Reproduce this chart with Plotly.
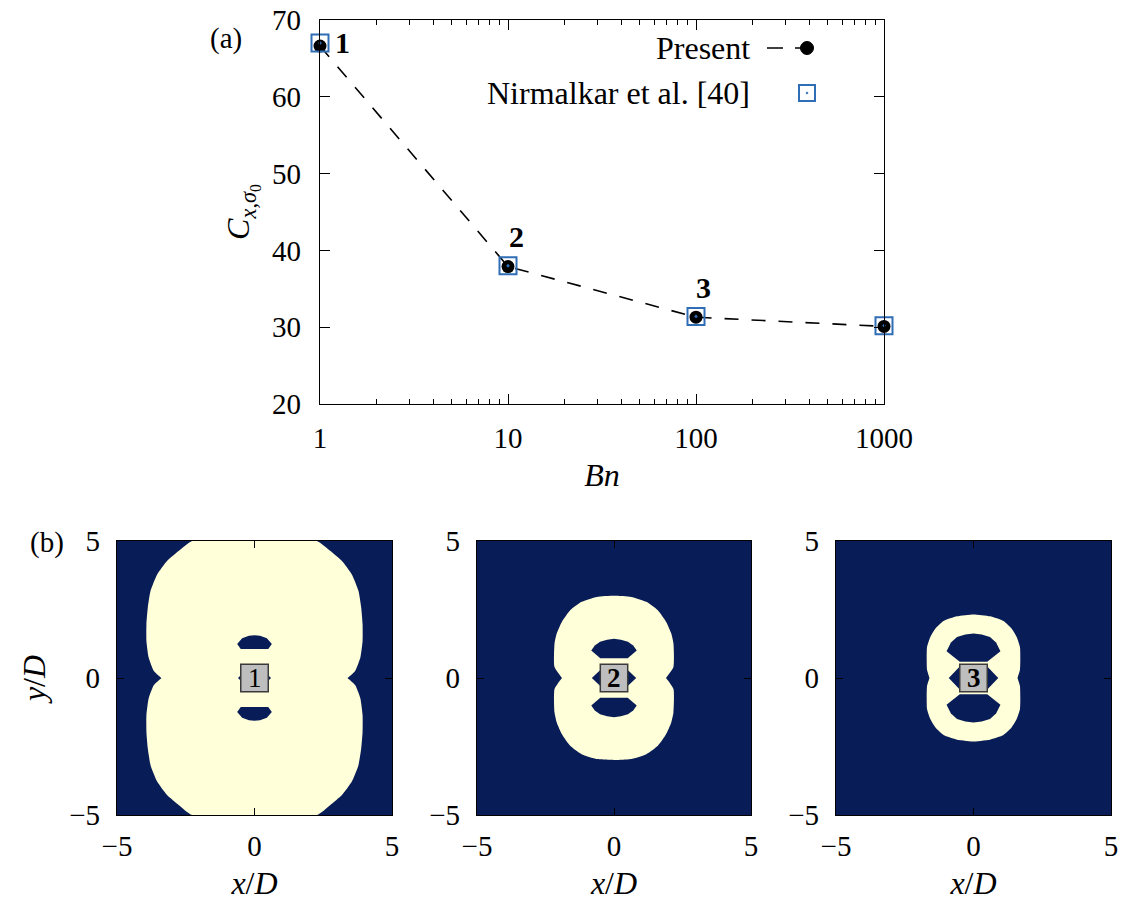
import math
import plotly.graph_objects as go

W, H = 1123, 907
FONT = "Liberation Serif"
NAVY = "#081d58"
CREAM = "#ffffd9"
BLUE = "#2f6db5"

# ---------------- panel (a) data ----------------
BN = [1, 10, 100, 1000]
CX_PRESENT = [66.6, 37.9, 31.3, 30.1]
CX_NIRMALKAR = [67.0, 38.0, 31.4, 30.2]
CASE_LABELS = ["1", "2", "3"]
Y_TICKS = [20, 30, 40, 50, 60, 70]

# ---------------- panel (b) data (yield-surface outlines, x<=0, y>=0 quadrant) ----
OUTER1_X = [0, -2.27, -2.75, -3.18, -3.54, -3.78, -3.88, -3.93, -3.93, -3.85, -3.66, -3.38]
OUTER1_Y = [5, 5, 4.64, 4.27, 3.78, 3.18, 2.57, 1.96, 1.35, 0.75, 0.26, 0]
HOLE1_X = [0, -0.2, -0.45, -0.63, -0.5, 0]
HOLE1_Y = [1.56, 1.54, 1.45, 1.24, 1.06, 1.05]
SIDE1_X = [-0.5, -0.6, -0.5]
SIDE1_Y = [0.1, 0, -0.1]

OUTER2_X = [0, -0.63, -1.18, -1.6, -1.9, -2.09, -2.17, -2.17, -1.9]
OUTER2_Y = [3.0, 2.96, 2.78, 2.47, 2.05, 1.62, 1.26, 0.4, 0]
HOLE2_X = [0, -0.25, -0.51, -0.7, -0.83, -0.5, 0]
HOLE2_Y = [1.43, 1.40, 1.32, 1.19, 1.0, 0.72, 0.72]
SIDE2_X = [-0.5, -0.81, -0.5]
SIDE2_Y = [0.29, 0, -0.29]

OUTER3_X = [0, -0.6, -1.09, -1.39, -1.57, -1.69, -1.69, -1.6]
OUTER3_Y = [2.32, 2.25, 2.08, 1.80, 1.50, 1.13, 0.3, 0]
HOLE3_X = [0, -0.3, -0.6, -0.82, -0.98, -0.5, 0]
HOLE3_Y = [1.62, 1.59, 1.5, 1.3, 0.98, 0.59, 0.59]
SIDE3_X = [-0.5, -0.9, -0.5]
SIDE3_Y = [0.42, 0, -0.42]

CYL_X = [-0.5, 0.5]
CYL_Y = [-0.5, 0.5]
PANEL_TICKS = [-5, 0, 5]
PANEL_RANGE = [-5, 5]

PANELS = [
    (OUTER1_X, OUTER1_Y, HOLE1_X, HOLE1_Y, SIDE1_X, SIDE1_Y, "1", False),
    (OUTER2_X, OUTER2_Y, HOLE2_X, HOLE2_Y, SIDE2_X, SIDE2_Y, "2", True),
    (OUTER3_X, OUTER3_Y, HOLE3_X, HOLE3_Y, SIDE3_X, SIDE3_Y, "3", True),
]


def full_outline(qx, qy):
    xs = list(qx) + list(reversed(qx)) + [-x for x in qx] + [-x for x in reversed(qx)]
    ys = list(qy) + [-y for y in reversed(qy)] + [-y for y in qy] + list(reversed(qy))
    return xs, ys


def hole_outline(hx, hy, sign):
    xs = list(hx) + [-x for x in reversed(hx)]
    ys = [sign * y for y in hy] + [sign * y for y in reversed(hy)]
    return xs, ys


def px_x(p):
    return p / W


def px_y(p):
    return 1 - p / H


fig = go.Figure()

# ---------------- panel (a) ----------------
fig.add_trace(go.Scatter(
    x=BN, y=CX_PRESENT, mode="lines+markers", name="Present",
    line=dict(color="black", width=1.6, dash="14px,13px"),
    marker=dict(symbol="circle", size=13, color="black"),
    xaxis="x", yaxis="y", showlegend=False, cliponaxis=False,
))
fig.add_trace(go.Scatter(
    x=BN, y=CX_NIRMALKAR, mode="markers", name="Nirmalkar et al. [40]",
    marker=dict(symbol="square-open-dot", size=17, color=BLUE, line=dict(width=2, color=BLUE)),
    xaxis="x", yaxis="y", showlegend=False, cliponaxis=False,
))

annotations = []
shapes = []

label_shifts = [(22, 4), (8, 30), (7, 30)]
for i, lab in enumerate(CASE_LABELS):
    annotations.append(dict(
        x=math.log10(BN[i]), y=CX_PRESENT[i], xref="x", yref="y",
        text=f"<b>{lab}</b>", showarrow=False,
        xshift=label_shifts[i][0], yshift=label_shifts[i][1],
        font=dict(family=FONT, size=30, color="black"),
    ))

# manual gnuplot-style legend (text left, key right)
annotations.append(dict(x=px_x(752), y=px_y(48), xref="paper", yref="paper", text="Present",
                        showarrow=False, xanchor="right", yanchor="middle",
                        font=dict(family=FONT, size=32, color="black")))
annotations.append(dict(x=px_x(752), y=px_y(93), xref="paper", yref="paper",
                        text="Nirmalkar et al. [40]", showarrow=False, xanchor="right",
                        yanchor="middle", font=dict(family=FONT, size=32, color="black")))
shapes.append(dict(type="line", xref="paper", yref="paper", x0=px_x(767), x1=px_x(823),
                   y0=px_y(48), y1=px_y(48), line=dict(color="black", width=1.6, dash="16px,12px")))
shapes.append(dict(type="circle", xref="paper", yref="paper", x0=px_x(800.5), x1=px_x(813.5),
                   y0=px_y(41.5), y1=px_y(54.5), fillcolor="black", line=dict(color="black", width=1)))
shapes.append(dict(type="rect", xref="paper", yref="paper", x0=px_x(799), x1=px_x(815),
                   y0=px_y(85), y1=px_y(101), fillcolor="rgba(0,0,0,0)", line=dict(color=BLUE, width=2)))
shapes.append(dict(type="circle", xref="paper", yref="paper", x0=px_x(806), x1=px_x(808),
                   y0=px_y(92), y1=px_y(94), fillcolor=BLUE, line=dict(color=BLUE, width=0.5)))

annotations.append(dict(x=px_x(208), y=px_y(20), xref="paper", yref="paper", text="(a)",
                        showarrow=False, font=dict(family=FONT, size=29, color="black")))
annotations.append(dict(x=px_x(28), y=px_y(542), xref="paper", yref="paper", text="(b)",
                        showarrow=False, font=dict(family=FONT, size=29, color="black")))

# ---------------- panel (b) ----------------
bot_domains = [(117, 392), (477, 751), (836, 1111)]
for k, (ox, oy, hx, hy, sx, sy, lab, bold) in enumerate(PANELS):
    xa = f"x{k + 2}"
    ya = f"y{k + 2}"
    # background (unyielded) region
    shapes.append(dict(type="rect", xref=f"{xa} domain", yref=f"{ya} domain", x0=0, x1=1,
                       y0=0, y1=1, fillcolor=NAVY, line=dict(width=0), layer="below"))
    fx, fy = full_outline(ox, oy)
    fig.add_trace(go.Scatter(x=fx, y=fy, fill="toself", fillcolor=CREAM, mode="lines",
                             line=dict(width=0, color=CREAM, shape="spline", smoothing=0.5),
                             xaxis=xa, yaxis=ya, showlegend=False, hoverinfo="skip"))
    for sign in (1, -1):
        px_, py_ = hole_outline(hx, hy, sign)
        fig.add_trace(go.Scatter(x=px_, y=py_, fill="toself", fillcolor=NAVY, mode="lines",
                                 line=dict(width=0, color=NAVY), xaxis=xa, yaxis=ya,
                                 showlegend=False, hoverinfo="skip"))
        fig.add_trace(go.Scatter(x=[sign * v for v in sx], y=list(sy), fill="toself",
                                 fillcolor=NAVY, mode="lines", line=dict(width=0, color=NAVY),
                                 xaxis=xa, yaxis=ya, showlegend=False, hoverinfo="skip"))
    shapes.append(dict(type="rect", xref=xa, yref=ya, x0=CYL_X[0], x1=CYL_X[1],
                       y0=CYL_Y[0], y1=CYL_Y[1], fillcolor="#bebebe",
                       line=dict(color="#3a3a3a", width=1.5)))
    annotations.append(dict(x=0, y=0, xref=xa, yref=ya,
                            text=f"<b>{lab}</b>" if bold else lab, showarrow=False,
                            font=dict(family=FONT, size=27, color="black")))

axis_common = dict(showgrid=False, zeroline=False, showline=True, linecolor="black",
                   linewidth=1.2, mirror="ticks", ticks="inside", tickcolor="black",
                   tickwidth=1.2, automargin=False,
                   tickfont=dict(family=FONT, size=29, color="black"))

layout = dict(
    width=W, height=H, margin=dict(l=0, r=0, t=0, b=0, autoexpand=False),
    paper_bgcolor="white", plot_bgcolor="rgba(0,0,0,0)",
    xaxis=dict(type="log", range=[0, 3], domain=[px_x(320), px_x(884)], dtick=1,
               exponentformat="none", ticklen=10, ticklabelstandoff=8,
               minor=dict(ticks="inside", ticklen=5, tickcolor="black", tickwidth=1, showgrid=False),
               title=dict(text="<i>Bn</i>", font=dict(family=FONT, size=32, color="black"), standoff=10),
               anchor="y", **axis_common),
    yaxis=dict(range=[20, 70], domain=[px_y(404), px_y(20)], tickvals=Y_TICKS, ticklen=10,
               ticklabelstandoff=12,
               title=dict(text="<i>C</i><sub><i>x</i>,<i>σ</i><sub>0</sub></sub>",
                          font=dict(family=FONT, size=32, color="black"), standoff=12),
               anchor="x", **axis_common),
    annotations=annotations, shapes=shapes,
)

for k, (x0, x1) in enumerate(bot_domains):
    n = k + 2
    layout[f"xaxis{n}"] = dict(range=PANEL_RANGE, domain=[px_x(x0), px_x(x1)], tickvals=PANEL_TICKS,
                              ticklen=7, ticklabelstandoff=5, anchor=f"y{n}",
                              title=dict(text="<i>x</i>/<i>D</i>",
                                         font=dict(family=FONT, size=32, color="black"), standoff=10),
                              **axis_common)
    yd = dict(range=PANEL_RANGE, domain=[px_y(815), px_y(541)], tickvals=PANEL_TICKS,
              ticklen=7, ticklabelstandoff=10, anchor=f"x{n}", **axis_common)
    if k == 0:
        yd["title"] = dict(text="<i>y</i>/<i>D</i>", font=dict(family=FONT, size=32, color="black"),
                           standoff=14)
    layout[f"yaxis{n}"] = yd

fig.update_layout(**layout)
fig.write_html("out.html", config={"displayModeBar": False},
               post_script="document.body.style.margin='0';")
